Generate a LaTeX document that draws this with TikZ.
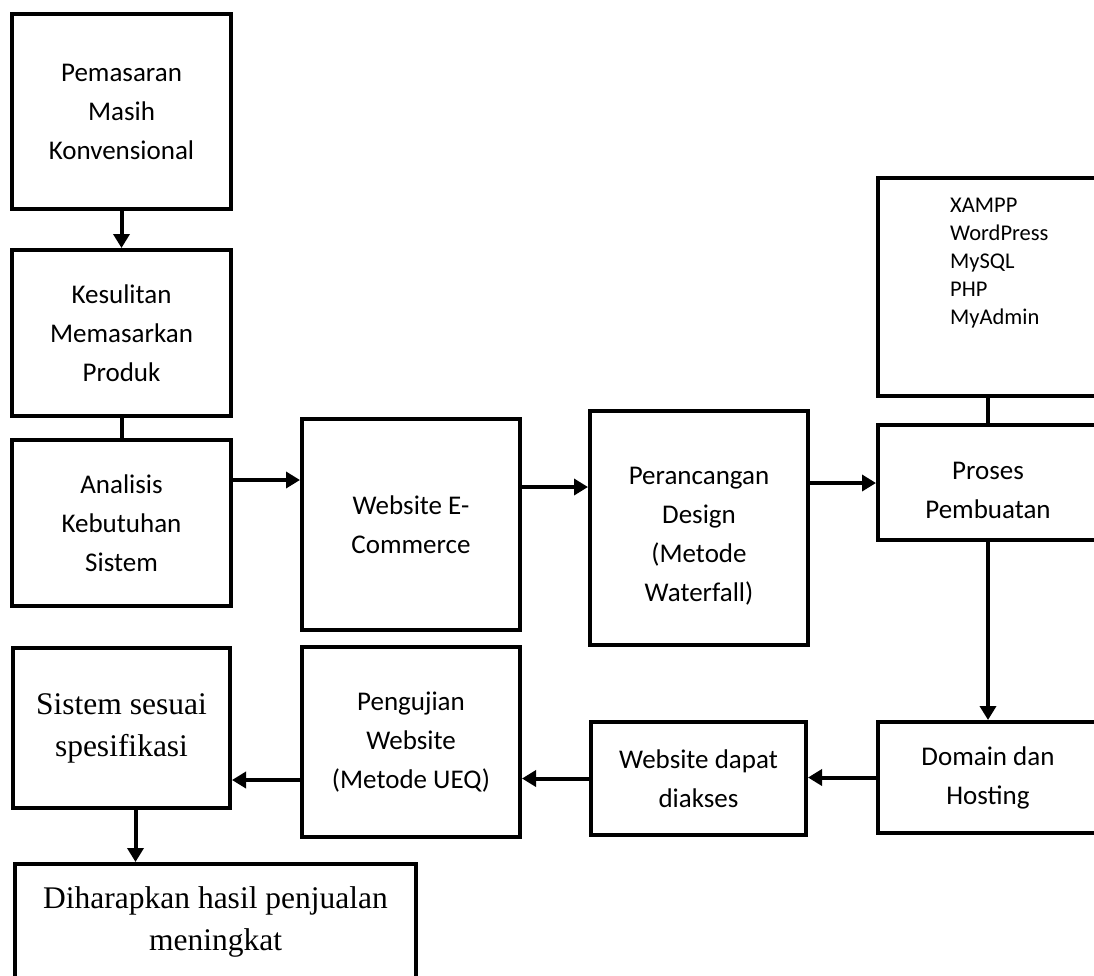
\documentclass[tikz,border=0pt]{standalone}
\usepackage{fontspec}
\setmainfont{Carlito}
\newfontfamily\serifnote{Liberation Serif}
\usetikzlibrary{arrows.meta}
\newcommand{\lowertext}{\rule{0pt}{33pt}}
\begin{document}
\begin{tikzpicture}[x=1pt,y=-1pt,
  box/.style={draw, rectangle, line width=4pt, inner sep=0pt, align=center, font=\fontsize{27}{39}\selectfont},
  serifbox/.style={box, font=\serifnote\fontsize{31.5}{42}\selectfont},
  arr/.style={line width=4pt, -{Triangle[length=14pt,width=16pt]}},
  link/.style={line width=4pt}]
\useasboundingbox (0,0) rectangle (1094,975);
\node[box, minimum width=219, minimum height=195] (pemasaran) at (121.5,111.5){Pemasaran\\Masih\\Konvensional};
\node[box, minimum width=219, minimum height=166] (kesulitan) at (121.5,333){Kesulitan\\Memasarkan\\Produk};
\node[box, minimum width=219, minimum height=166] (analisis) at (121.5,523){Analisis\\Kebutuhan\\Sistem};
\node[box, minimum width=218, minimum height=211] (website) at (411,524.5){Website E-\\Commerce};
\node[box, minimum width=218, minimum height=234] (perancangan) at (699,528){\lowertext Perancangan\\Design\\(Metode\\Waterfall)};
\node[box, minimum width=220, minimum height=218] (xampp) at (988,287){};
\node[anchor=north west, align=left, inner sep=0pt, font=\fontsize{22.5}{28}\selectfont] (tools) at (950,198){XAMPP\\WordPress\\MySQL\\PHP\\MyAdmin};
\node[box, minimum width=220, minimum height=115] (proses) at (988,482.5){\lowertext Proses\\Pembuatan};
\node[box, minimum width=220, minimum height=111] (domain) at (988,777.5){Domain dan\\Hosting};
\node[box, minimum width=215, minimum height=113] (dapat) at (698.5,778.5){Website dapat\\diakses};
\node[box, minimum width=218, minimum height=190] (pengujian) at (411,742){Pengujian\\Website\\(Metode UEQ)};
\node[serifbox, minimum width=217, minimum height=160] (sistem) at (121.5,728){Sistem sesuai\\spesifikasi};
\node[serifbox, minimum width=401, minimum height=116] (harapan) at (215.5,922){Diharapkan hasil penjualan\\meningkat};
\draw[arr](pemasaran) -- (kesulitan);
\draw[link](kesulitan) -- (analisis);
\draw[arr]([yshift=43]analisis.east) -- ([yshift=43]analisis.east -| website.west);
\draw[arr]([yshift=37.5]website.east) -- ([yshift=37.5]website.east -| perancangan.west);
\draw[arr]([yshift=45]perancangan.east) -- ([yshift=45]perancangan.east -| proses.west);
\draw[link](xampp) -- (proses);
\draw[arr](proses) -- (domain);
\draw[arr](domain.west) -- (domain.west -| dapat.east);
\draw[arr](dapat.west) -- (dapat.west -| pengujian.east);
\draw[arr]([yshift=-38]pengujian.west) -- ([yshift=-38]pengujian.west -| sistem.east);
\draw[arr]([xshift=14]sistem.south) -- ([xshift=14]sistem.south |- harapan.north);
\end{tikzpicture}
\end{document}
